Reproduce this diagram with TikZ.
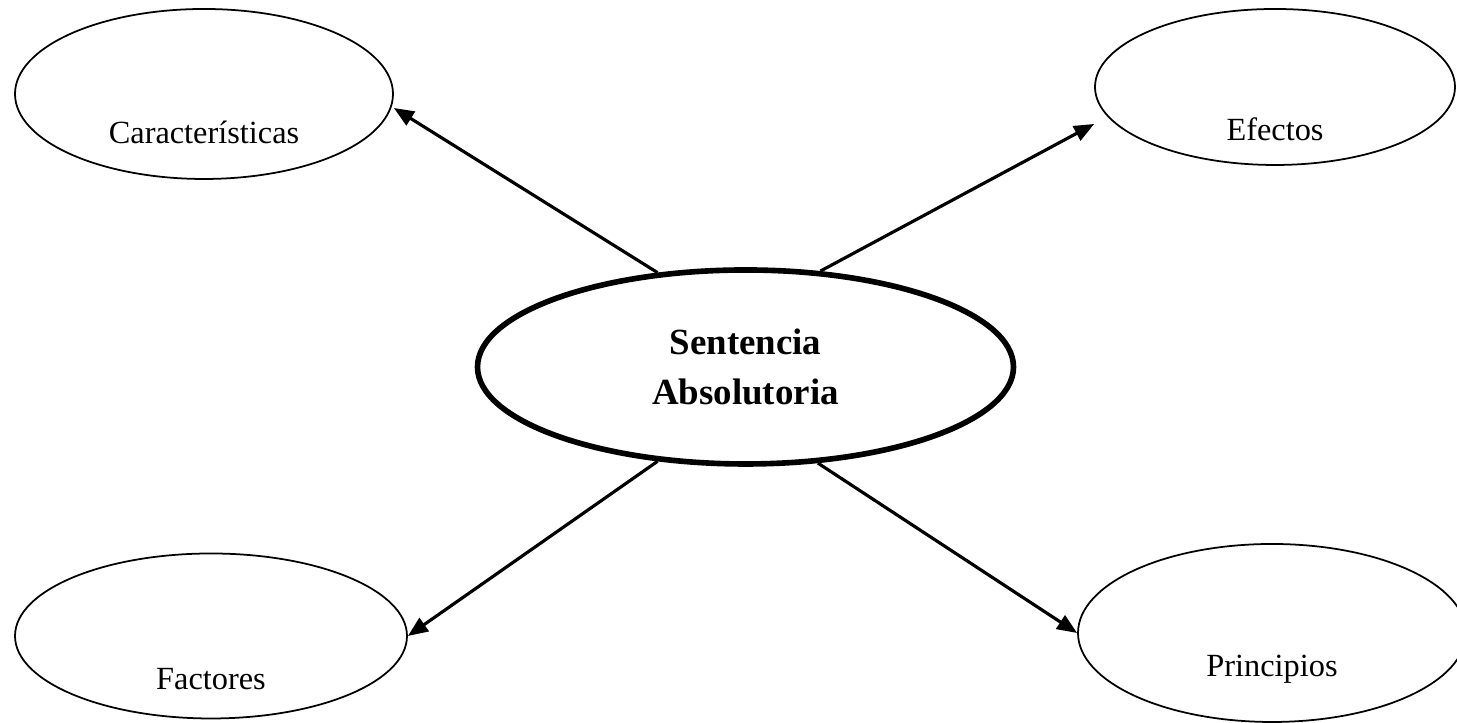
\documentclass[tikz,border=0pt]{standalone}
\usepackage{fontspec}
\setmainfont{Liberation Serif}
\usepackage{tikz}
\usetikzlibrary{arrows.meta}
\usetikzlibrary{shapes}
\tikzstyle{topic}=[ellipse, draw=black, line width=0.5pt, inner sep=0pt]
\tikzstyle{tag}=[font=\fontsize{9.2}{11}\selectfont]
\tikzstyle{core}=[ellipse, draw=black, line width=1.6pt, inner sep=0pt, align=center, font=\fontsize{10.5}{14}\selectfont\bfseries]
\tikzstyle{tran}=[draw, line width=0.9pt, -{Triangle[length=0.2cm, width=0.16cm]}]

\begin{document}
\begin{tikzpicture}

\useasboundingbox (0,0) rectangle (14.57,7.23);

\node[core] (sa) at (7.455,3.56) [minimum width=5.36cm, minimum height=1.94cm]
{Sentencia\\Absolutoria};

\node[topic] (car) at (2.04,6.29) [minimum width=3.78cm, minimum height=1.70cm,
  label={[tag, yshift=-0.38cm]center:Características}] {};
\node[topic] (eff) at (12.75,6.36) [minimum width=3.60cm, minimum height=1.56cm,
  label={[tag, yshift=-0.42cm]center:Efectos}] {};
\node[topic] (fac) at (2.11,0.87) [minimum width=3.92cm, minimum height=1.65cm,
  label={[tag, yshift=-0.43cm]center:Factores}] {};
\node[topic] (pri) at (12.72,0.90) [minimum width=3.88cm, minimum height=1.78cm,
  label={[tag, yshift=-0.36cm]center:Principios}] {};

\draw[tran] (sa.133)       to      ([yshift=-0.14cm]car.east);
\draw[tran] (sa.52)        to      ([yshift=-0.37cm]eff.west);
\draw[tran] (sa.227)       to      (fac.east);
\draw[tran] (sa.307)       to      (pri.west);

\end{tikzpicture}
\end{document}
